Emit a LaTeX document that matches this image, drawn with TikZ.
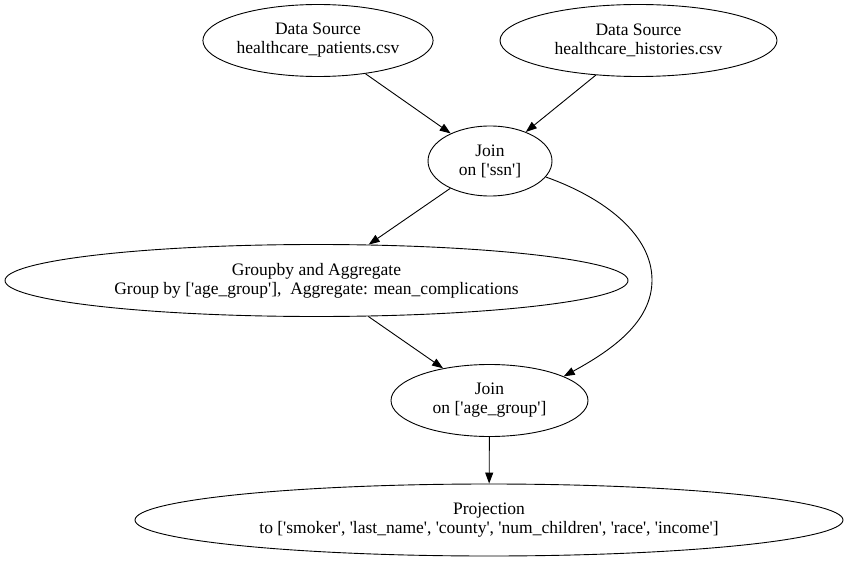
\documentclass[tikz,border=0pt]{standalone}
\usepackage{fontspec}
\setmainfont{Liberation Serif}
\usetikzlibrary{shapes, arrows.meta, positioning}
\newcommand{\sq}{\textquotesingle}
\tikzstyle{op} = [ellipse, draw, line width=0.9pt, inner sep=0pt, align=center, font=\fontsize{17.5}{19}\selectfont]
\tikzstyle{flow} = [-{Triangle[length=11pt, width=8pt]}, line width=0.9pt]

\begin{document}
\begin{tikzpicture}[x=1pt, y=-1pt]
  \useasboundingbox (0,0) rectangle (850,561);
  % sources
  \node[op, minimum width=224pt, minimum height=72pt] (src1) at (318,40.5) {Data Source\\healthcare\_patients.csv};
  \node[op, minimum width=277pt, minimum height=72pt] (src2) at (638.5,40.5) {Data Source\\healthcare\_histories.csv};

  % first join
  \node[op, minimum width=124pt, minimum height=70pt] (join1) at (490,161) {Join\\on [\sq ssn\sq]};

  % aggregate
  \node[op, minimum width=623pt, minimum height=72pt] (agg) at (316.5,280.5) {Groupby and Aggregate\\Group by [\sq age\_group\sq],\ \ Aggregate: mean\_complications};

  % second join
  \node[op, minimum width=197pt, minimum height=72pt] (join2) at (489.5,400.5) {Join\\on [\sq age\_group\sq]};

  % projection
  \node[op, minimum width=708pt, minimum height=72pt] (proj) at (489,520) {Projection\\to [\sq smoker\sq, \sq last\_name\sq, \sq county\sq, \sq num\_children\sq, \sq race\sq, \sq income\sq]};

  % edges
  \draw[flow] (src1) -- (join1);
  \draw[flow] (src2) -- (join1);
  \draw[flow] (join1) -- (agg);
  \draw[flow] (agg) -- (join2);
  \draw[flow] (join2) -- (proj);
  \coordinate (bend) at (652,280);
  \draw[flow] (join1.-16) .. controls (605,198) and (652,235) .. (bend)
    .. controls (652,322) and (612,350) .. (join2.18);
\end{tikzpicture}
\end{document}
